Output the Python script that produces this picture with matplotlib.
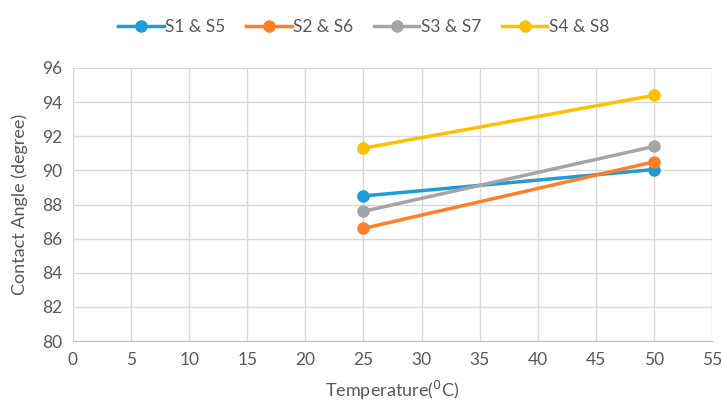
import matplotlib
matplotlib.use("Agg")
import matplotlib.pyplot as plt

temps = [25, 50]
s1_s5 = [88.5, 90.05]
s2_s6 = [86.6, 90.5]
s3_s7 = [87.6, 91.4]
s4_s8 = [91.3, 94.4]
labels = ["S1 & S5", "S2 & S6", "S3 & S7", "S4 & S8"]
colors = ["#1f9bd7", "#ff7f27", "#a5a5a5", "#ffc000"]
xticks = list(range(0, 56, 5))
yticks = list(range(80, 97, 2))

plt.rcParams['font.family'] = ['Lato', 'DejaVu Sans']
fig = plt.figure(figsize=(7.22, 4.09), dpi=100)
ax = fig.add_axes([73/722, 1-341/409, (712-73)/722, (341-68)/409])

for vals, lab, c in zip([s1_s5, s2_s6, s3_s7, s4_s8], labels, colors):
    ax.plot(temps, vals, color=c, lw=2.5, marker='o', ms=8, label=lab, zorder=3)

ax.set_xlim(0, 55)
ax.set_ylim(80, 96)
ax.set_xticks(xticks)
ax.set_yticks(yticks)
ax.grid(True, color='#d9d9d9', lw=1)
ax.set_axisbelow(True)
for s in ['top', 'right']:
    ax.spines[s].set_visible(False)
ax.spines['left'].set_color('#d9d9d9')
ax.spines['bottom'].set_color('#bfbfbf')
ax.tick_params(length=0, labelsize=12.5, colors='#595959', pad=8)
ax.set_xlabel('Temperature($^0$C)', fontsize=13, color='#595959', labelpad=8)
ax.set_ylabel('Contact Angle (degree)', fontsize=13, color='#595959', labelpad=10)

leg = fig.legend(loc='center', bbox_to_anchor=(364/722, 1-27/409), ncol=4, frameon=False,
                 fontsize=12.5, handlelength=2.6, columnspacing=1.2, handletextpad=0.1, markerscale=1.0)
for t in leg.get_texts():
    t.set_color('#595959')

fig.savefig('out.png', dpi=100)
